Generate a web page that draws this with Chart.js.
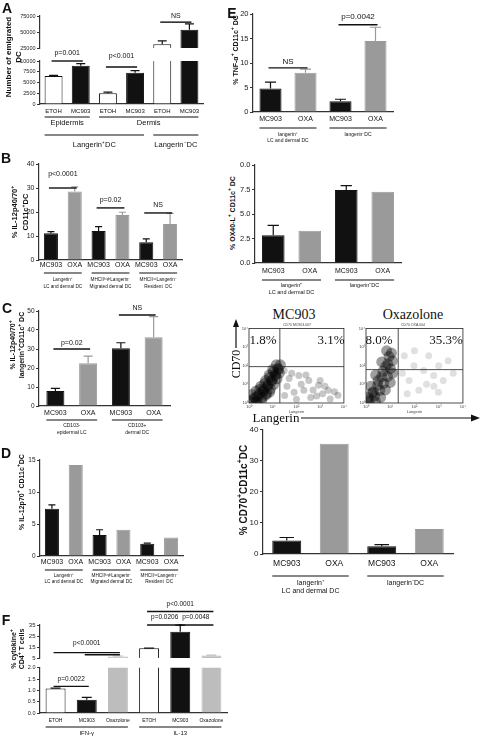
<!DOCTYPE html>
<html>
<head>
<meta charset="utf-8">
<title>DC cytokine panels</title>
<script src="https://cdn.jsdelivr.net/npm/chart.js@4.4.1/dist/chart.umd.min.js"></script>
<style>
body{margin:0;background:#fff;}
#page{position:relative;width:480px;height:737px;overflow:hidden;font-family:"Liberation Sans",Arial,sans-serif;color:#111;}
canvas{position:absolute;}
.t{position:absolute;white-space:nowrap;text-align:center;}
.t sup{font-size:70%;line-height:0;vertical-align:super;}
</style>
</head>
<body>
<div id="page"></div>
<script>
// ---- data ----

// A: emigrated DC
const aCats = ['ETOH', 'MC903', 'ETOH', 'MC903', 'ETOH', 'MC903'];
const aVals = [6500, 8900, 2500, 7250, 31000, 53500];
const aErrs = [150, 500, 250, 500, 5000, 9200];
const aTicksHi = [25000, 50000, 75000];
const aTicksLo = [0, 2500, 5000, 7500, 10000];

// B: IL-12p40/70
const bCats = ['MC903', 'OXA', 'MC903', 'OXA', 'MC903', 'OXA'];
const bVals = [11.1, 28.5, 12.1, 18.8, 7.4, 15.0];
const bErrs = [0.7, 2.0, 1.8, 1.1, 1.4, 4.4];
const bTicks = [0, 10, 20, 30, 40];

// C: IL-12p40/70 langerin+
const cCats = ['MC903', 'OXA', 'MC903', 'OXA'];
const cVals = [7.9, 22.5, 30.4, 36.2];
const cErrs = [1.4, 3.8, 2.9, 10.8];
const cTicks = [0, 10, 20, 30, 40, 50];

// D: IL-12p70
const dCats = ['MC903', 'OXA', 'MC903', 'OXA', 'MC903', 'OXA'];
const dVals = [7.4, 14.2, 3.3, 4.1, 1.9, 2.9];
const dErrs = [0.6, 0, 0.8, 0, 0.1, 0];
const dTicks = [0, 5, 10, 15];

// E: TNF-alpha
const eCats = ['MC903', 'OXA', 'MC903', 'OXA'];
const eVals = [4.8, 8.0, 2.2, 14.5];
const eErrs = [1.3, 0.75, 0.4, 2.8];
const eTicks = [0, 5, 10, 15, 20];

// OX40-L
const oCats = ['MC903', 'OXA', 'MC903', 'OXA'];
const oVals = [2.84, 3.28, 7.45, 7.27];
const oErrs = [1.0, 0, 0.45, 0];
const oTicks = [0, 2.5, 5, 7.5, 10];

// CD70
const gCats = ['MC903', 'OXA', 'MC903', 'OXA'];
const gVals = [4.3, 35.4, 2.5, 8.0];
const gErrs = [1.0, 0, 0.5, 0];
const gTicks = [0, 10, 20, 30, 40];

// F: cytokine+ CD4 T cells
const fCats = ['ETOH', 'MC903', 'Oxazolone', 'ETOH', 'MC903', 'Oxazolone'];
const fVals = [1.08, 0.59, 6.4, 13.8, 28.8, 7.2];
const fErrs = [0.02, 0.1, 0.4, 0.2, 6.0, 0.5];
const fTicksHi = [5, 15, 25, 35];
const fTicksLo = [0, 0.5, 1.0, 1.5, 2.0];

// flow dot plots, in decades (10^0 .. 10^4)
const flowTicks = [0, 1, 2, 3, 4];
const flowTickText = ['10⁰', '10¹', '10²', '10³', '10⁴'];
const mcGate = [1.3, 1.95];
const oxGate = [1.33, 1.79];
const mcDense = [[0.17,0.21],[0.37,0.37],[0.58,0.63],[0.78,0.89],[0.95,1.16],[1.11,1.47],[1.24,1.79],[1.32,2.05],
  [0.29,0.05],[0.54,0.16],[0.70,0.42],[0.87,0.58],[0.45,0.74],[0.66,1.05],[0.87,1.37],[1.03,1.68],
  [0.1,0.1],[0.25,0.3],[0.45,0.5],[0.62,0.72],[0.8,0.98],[0.98,1.25],[1.12,1.55],[1.22,1.85],
  [0.35,0.1],[0.55,0.3],[0.75,0.5],[0.9,0.75],[1.05,1.0],[1.18,1.3],[1.28,1.6],
  [0.1,0.45],[0.3,0.65],[0.5,0.9],[0.7,1.2],[0.85,1.5],[1.0,1.8],[1.15,2.05]];
const mcSparse = [[1.69,1.32],[2.10,1.47],[2.52,1.21],[2.93,0.95],[3.34,0.68],[3.75,0.42],[2.31,0.68],
  [2.85,0.37],[3.42,0.21],[1.90,0.58],[1.48,1.74],[1.6,0.9],[2.2,1.0],[2.7,0.7],[3.1,0.5],[3.6,0.6],
  [2.4,1.5],[3.0,1.2],[1.8,1.6],[2.6,0.3],[3.2,0.9],[1.5,0.4],[2.0,0.2]];
const oxDense = [[0.16,0.16],[0.36,0.37],[0.57,0.68],[0.73,1.05],[0.89,1.42],[1.01,1.84],[1.09,2.26],[1.05,2.68],
  [0.24,0.53],[0.48,0.95],[0.65,1.42],[0.81,1.95],[0.08,0.05],[0.40,0.05],
  [0.1,0.3],[0.3,0.6],[0.5,1.2],[0.7,1.7],[0.9,2.1],[0.95,2.5],[0.6,0.3],[0.8,0.7],[1.0,1.1],[1.1,1.6],
  [0.2,0.9],[0.4,1.5],[0.65,2.2],[0.85,2.8]];
const oxSparse = [[1.58,2.53],[1.98,2.0],[2.38,1.74],[2.79,1.47],[3.19,1.21],[1.78,1.21],[2.59,2.53],
  [2.18,0.68],[3.39,2.26],[2.99,0.58],[1.5,1.6],[2.0,2.8],[2.5,1.0],[3.0,2.0],[3.6,1.6],[1.7,0.5],[2.8,0.9]];

// ---- styling ----
const SANS = "'Liberation Sans', Arial, sans-serif";
const BLK = '#111', GRY = '#9a9a9a', LGRY = '#bdbdbd', WHT = '#fff';
const AX = '#333';
Chart.defaults.font.family = SANS;

const page = document.getElementById('page');

function addCanvas(area, pad) {
  const cv = document.createElement('canvas');
  const w = area[2] - area[0] + pad.l + pad.r;
  const h = area[3] - area[1] + pad.t + pad.b;
  cv.width = w; cv.height = h;
  cv.style.left = (area[0] - pad.l) + 'px';
  cv.style.top = (area[1] - pad.t) + 'px';
  cv.style.width = w + 'px';
  cv.style.height = h + 'px';
  page.appendChild(cv);
  return cv;
}

function label(html, x, y, css, rot) {
  const d = document.createElement('div');
  d.className = 't';
  d.innerHTML = html;
  d.style.cssText = 'left:' + x + 'px;top:' + y + 'px;transform:translate(-50%,-50%)' + (rot ? ' rotate(-90deg)' : '') + ';' + css;
  page.appendChild(d);
}

// error bars, significance lines, group labels under the axis
const extras = {
  id: 'extras',
  afterDatasetsDraw(chart, args, o) {
    const ctx = chart.ctx, y = chart.scales.y, a = chart.chartArea;
    const bars = chart.getDatasetMeta(0).data, vals = chart.data.datasets[0].data;
    ctx.save();
    if (o.errors) {
      ctx.save();
      ctx.beginPath();
      ctx.rect(a.left, a.top - 1, a.right - a.left, a.bottom - a.top + 1);
      ctx.clip();
      ctx.lineWidth = 1.2;
      o.errors.forEach((e, i) => {
        if (!e) return;
        const b = bars[i], top = y.getPixelForValue(vals[i]), end = y.getPixelForValue(vals[i] + e), h = b.width / 4;
        ctx.strokeStyle = o.errColors[i];
        ctx.beginPath();
        ctx.moveTo(b.x, top); ctx.lineTo(b.x, end);
        ctx.moveTo(b.x - h, end); ctx.lineTo(b.x + h, end);
        ctx.stroke();
      });
      ctx.restore();
    }
    ctx.strokeStyle = BLK; ctx.fillStyle = BLK;
    ctx.textAlign = 'center'; ctx.textBaseline = 'middle';
    (o.brackets || []).forEach(k => {
      const x1 = bars[k.a].x, x2 = bars[k.b].x, yy = y.getPixelForValue(k.v);
      ctx.lineWidth = 1.4;
      ctx.beginPath(); ctx.moveTo(x1 - 2, yy); ctx.lineTo(x2 + 2, yy); ctx.stroke();
      if (k.t) {
        ctx.font = o.bFont + 'px ' + SANS;
        ctx.fillText(k.t, (x1 + x2) / 2, yy - k.dy);
      }
    });
    (o.groups || []).forEach(r => {
      r.items.forEach(g => {
        const x1 = bars[g.a].x - bars[g.a].width / 2, x2 = bars[g.b].x + bars[g.b].width / 2;
        const ly = a.bottom + r.ly;
        ctx.lineWidth = 1.2;
        ctx.beginPath(); ctx.moveTo(x1, ly); ctx.lineTo(x2, ly); ctx.stroke();
        ctx.font = r.size + 'px ' + SANS;
        g.t.forEach((s, j) => ctx.fillText(s, (x1 + x2) / 2, a.bottom + r.ty + j * (r.lh || 0)));
      });
    });
    ctx.restore();
  }
};

function barPanel(o) {
  const cv = addCanvas(o.area, o.pad);
  new Chart(cv, {
    type: 'bar',
    data: {
      labels: o.labels,
      datasets: [{
        data: o.values,
        backgroundColor: o.fill,
        borderColor: o.edge,
        borderWidth: 1,
        barPercentage: o.barPct,
        categoryPercentage: 1,
        clip: 0
      }]
    },
    options: {
      responsive: false,
      animation: false,
      events: [],
      layout: { autoPadding: false, padding: { left: 0, top: o.pad.t, right: o.pad.r, bottom: o.showX ? 0 : o.pad.b } },
      plugins: {
        legend: { display: false },
        tooltip: { enabled: false },
        extras: { errors: o.errors, errColors: o.errColors, brackets: o.brackets, bFont: o.bFont, groups: o.groups }
      },
      scales: {
        x: {
          display: o.showX,
          grid: { display: false, drawTicks: false, tickLength: 0 },
          border: { color: AX, width: 1.2 },
          afterFit: s => { s.height = o.pad.b; },
          ticks: { autoSkip: false, maxRotation: 0, padding: o.xPad, color: BLK, font: { size: o.xSize } }
        },
        y: {
          min: o.min,
          max: o.max,
          afterFit: s => { s.width = o.pad.l; },
          afterBuildTicks: s => { s.ticks = o.ticks.map(v => ({ value: v })); },
          grid: { drawOnChartArea: false, tickLength: 3, color: AX },
          border: { color: AX, width: 1.2 },
          ticks: { padding: 1.5, color: '#222', font: { size: o.tickSize }, callback: o.fmt || (v => String(v)) }
        }
      }
    },
    plugins: [extras]
  });
}

function colorsFor(list) {
  return list.map(c => c === WHT ? BLK : c);
}

// ---- panel A (broken axis: two charts) ----
const aFill = [WHT, BLK, WHT, BLK, WHT, BLK];
barPanel({
  area: [40, 16, 203, 52], pad: { l: 40, t: 10, r: 10, b: 4 }, showX: false,
  labels: aCats, values: aVals, errors: aErrs, fill: aFill, edge: colorsFor(aFill), errColors: colorsFor(aFill),
  min: 25000, max: 75000, ticks: aTicksHi, tickSize: 5.5, barPct: 0.66, bFont: 7,
  brackets: [{ a: 4, b: 5, v: 65400, t: 'NS', dy: 6 }]
});
barPanel({
  area: [40, 61, 203, 104], pad: { l: 40, t: 14, r: 10, b: 48 }, showX: true, xPad: 3.6, xSize: 6,
  labels: aCats, values: aVals, errors: aErrs, fill: aFill, edge: colorsFor(aFill), errColors: colorsFor(aFill),
  min: 0, max: 10000, ticks: aTicksLo, tickSize: 5.5, barPct: 0.66, bFont: 7,
  brackets: [{ a: 0, b: 1, v: 10000, t: 'p=0.001', dy: 8 }, { a: 2, b: 3, v: 8600, t: 'p<0.001', dy: 11 }],
  groups: [
    { ly: 13, ty: 19, size: 7.5, items: [{ a: 0, b: 1, t: ['Epidermis'] }, { a: 2, b: 5, t: ['Dermis'] }] },
    { ly: 31, ty: 40.5, size: 7.5, items: [{ a: 0, b: 3, t: ['Langerin⁺DC'] }, { a: 4, b: 5, t: ['Langerin⁻DC'] }] }
  ]
});

// ---- panel B ----
const pairFill6 = [BLK, GRY, BLK, GRY, BLK, GRY];
const dcGroups3 = [
  { a: 0, b: 1, t: ['Langerin⁺', 'LC and dermal DC'] },
  { a: 2, b: 3, t: ['MHCIIʰⁱᵍʰLangerin⁻', 'Migrated dermal DC'] },
  { a: 4, b: 5, t: ['MHCIIⁱⁿᵗLangerin⁻', 'Resident  DC'] }
];
barPanel({
  area: [39, 164, 182, 260], pad: { l: 39, t: 14, r: 10, b: 33 }, showX: true, xPad: 1, xSize: 7,
  labels: bCats, values: bVals, errors: bErrs, fill: pairFill6, edge: pairFill6, errColors: pairFill6,
  min: 0, max: 40, ticks: bTicks, tickSize: 7, barPct: 0.59, bFont: 7,
  brackets: [{ a: 0, b: 1, v: 30, t: 'p<0.0001', dy: 14 }, { a: 2, b: 3, v: 21.7, t: 'p=0.02', dy: 8 }, { a: 4, b: 5, v: 19.6, t: 'NS', dy: 8 }],
  groups: [{ ly: 13, ty: 20, lh: 7, size: 4.7, items: dcGroups3 }]
});

// ---- panel C ----
const pairFill4 = [BLK, GRY, BLK, GRY];
barPanel({
  area: [39, 311, 170, 406], pad: { l: 39, t: 10, r: 10, b: 32 }, showX: true, xPad: 3, xSize: 7,
  labels: cCats, values: cVals, errors: cErrs, fill: pairFill4, edge: pairFill4, errColors: pairFill4,
  min: 0, max: 50, ticks: cTicks, tickSize: 6.5, barPct: 0.55, bFont: 7,
  brackets: [{ a: 0, b: 1, v: 30, t: 'p=0.02', dy: 6 }, { a: 2, b: 3, v: 47.9, t: 'NS', dy: 7 }],
  groups: [{ ly: 14, ty: 20, lh: 6.5, size: 5, items: [{ a: 0, b: 1, t: ['CD103-', 'epidermal LC'] }, { a: 2, b: 3, t: ['CD103+', 'dermal DC'] }] }]
});

// ---- panel D ----
barPanel({
  area: [40, 460, 183, 556], pad: { l: 40, t: 6, r: 10, b: 32 }, showX: true, xPad: 2, xSize: 7,
  labels: dCats, values: dVals, errors: dErrs, fill: pairFill6, edge: pairFill6, errColors: pairFill6,
  min: 0, max: 15, ticks: dTicks, tickSize: 6.5, barPct: 0.59,
  groups: [{ ly: 14, ty: 19.5, lh: 6, size: 4.7, items: dcGroups3 }]
});

// ---- panel F (broken axis) ----
const fFill = [WHT, BLK, LGRY, WHT, BLK, LGRY];
barPanel({
  area: [40, 625, 227, 662], pad: { l: 40, t: 27, r: 10, b: 4 }, showX: false,
  labels: fCats, values: fVals, errors: fErrs, fill: fFill, edge: colorsFor(fFill), errColors: colorsFor(fFill),
  min: 5, max: 35, ticks: fTicksHi, tickSize: 6, barPct: 0.64, bFont: 6.5,
  brackets: [
    { a: 3, b: 5, v: 47.3, t: 'p<0.0001', dy: 7 },
    { a: 3, b: 4, v: 35, t: 'p=0.0206', dy: 8 },
    { a: 4, b: 5, v: 35, t: 'p=0.0048', dy: 8 },
    { a: 0, b: 2, v: 9.9, t: 'p<0.0001', dy: 9 },
    { a: 1, b: 2, v: 8.0 }
  ]
});
barPanel({
  area: [40, 667, 227, 713], pad: { l: 40, t: 4, r: 10, b: 24 }, showX: true, xPad: 5, xSize: 5,
  labels: fCats, values: fVals, errors: fErrs, fill: fFill, edge: colorsFor(fFill), errColors: colorsFor(fFill),
  min: 0, max: 2, ticks: fTicksLo, tickSize: 5.5, barPct: 0.64, bFont: 6.5, fmt: v => v.toFixed(1),
  brackets: [{ a: 0, b: 1, v: 1.18, t: 'p=0.0022', dy: 7 }],
  groups: [{ ly: 14, ty: 20.5, size: 6, items: [{ a: 0, b: 2, t: ['IFN-γ'] }, { a: 3, b: 5, t: ['IL-13'] }] }]
});

// ---- right column ----
const lgGroups = [{ a: 0, b: 1, t: ['langerin⁺', 'LC and dermal DC'] }, { a: 2, b: 3, t: ['langerin⁻DC'] }];
barPanel({
  area: [253, 14, 393, 112], pad: { l: 13, t: 12, r: 10, b: 35 }, showX: true, xPad: 3, xSize: 7,
  labels: eCats, values: eVals, errors: eErrs, fill: pairFill4, edge: pairFill4, errColors: pairFill4,
  min: 0, max: 20, ticks: eTicks, tickSize: 7.5, barPct: 0.63, bFont: 8,
  brackets: [{ a: 0, b: 1, v: 9.0, t: 'NS', dy: 6 }, { a: 2, b: 3, v: 17.8, t: 'p=0.0042', dy: 8 }],
  groups: [{ ly: 16, ty: 23, lh: 5.5, size: 5, items: lgGroups }]
});
barPanel({
  area: [255, 165, 401, 263], pad: { l: 15, t: 6, r: 10, b: 35 }, showX: true, xPad: 4, xSize: 7,
  labels: oCats, values: oVals, errors: oErrs, fill: pairFill4, edge: pairFill4, errColors: pairFill4,
  min: 0, max: 10, ticks: oTicks, tickSize: 7.5, barPct: 0.62, fmt: v => v.toFixed(1),
  groups: [{ ly: 17, ty: 22.5, lh: 6.5, size: 5.5, items: lgGroups }]
});
barPanel({
  area: [263, 429, 453, 554], pad: { l: 20, t: 6, r: 10, b: 45 }, showX: true, xPad: 4.5, xSize: 8.5,
  labels: gCats, values: gVals, errors: gErrs, fill: pairFill4, edge: pairFill4, errColors: pairFill4,
  min: 0, max: 40, ticks: gTicks, tickSize: 8, barPct: 0.61,
  groups: [{ ly: 22, ty: 29, lh: 8, size: 7, items: lgGroups }]
});

// ---- flow dot plots ----
const gate = {
  id: 'gate',
  afterDatasetsDraw(chart, args, o) {
    const ctx = chart.ctx, a = chart.chartArea;
    const gx = chart.scales.x.getPixelForValue(o.x), gy = chart.scales.y.getPixelForValue(o.y);
    ctx.save();
    ctx.strokeStyle = '#222'; ctx.lineWidth = 0.8;
    ctx.strokeRect(a.left, a.top, a.right - a.left, a.bottom - a.top);
    ctx.beginPath();
    ctx.moveTo(gx, a.top); ctx.lineTo(gx, a.bottom);
    ctx.moveTo(a.left, gy); ctx.lineTo(a.right, gy);
    ctx.stroke();
    ctx.restore();
  }
};

function flowPanel(o) {
  const cv = addCanvas(o.area, { l: 9, t: 2, r: 2, b: 11 });
  const axis = () => ({
    type: 'linear', min: 0, max: 4,
    afterBuildTicks: s => { s.ticks = flowTicks.map(v => ({ value: v })); },
    grid: { display: false, drawTicks: false },
    border: { display: false },
    ticks: { padding: 1, font: { size: 4 }, color: '#444', callback: (v, i) => flowTickText[i] }
  });
  const xs = axis(), ys = axis();
  xs.afterFit = s => { s.height = 11; };
  xs.title = { display: true, text: 'Langerin', font: { size: 4 }, padding: 0, color: '#444' };
  ys.afterFit = s => { s.width = 9; };
  new Chart(cv, {
    type: 'bubble',
    data: {
      datasets: [
        { data: o.dense.map(p => ({ x: p[0], y: p[1], r: 5.5 })), backgroundColor: 'rgba(0,0,0,0.38)', borderWidth: 0, clip: 0 },
        { data: o.sparse.map(p => ({ x: p[0], y: p[1], r: 3.5 })), backgroundColor: o.sparseColor, borderWidth: 0, clip: 0 }
      ]
    },
    options: {
      responsive: false, animation: false, events: [],
      layout: { autoPadding: false, padding: { left: 0, top: 2, right: 2, bottom: 0 } },
      plugins: { legend: { display: false }, tooltip: { enabled: false }, gate: { x: o.gate[0], y: o.gate[1] } },
      scales: { x: xs, y: ys }
    },
    plugins: [gate]
  });
}
flowPanel({ area: [249, 327, 346, 403], dense: mcDense, sparse: mcSparse, gate: mcGate, sparseColor: 'rgba(0,0,0,0.22)' });
flowPanel({ area: [366, 327, 465, 403], dense: oxDense, sparse: oxSparse, gate: oxGate, sparseColor: 'rgba(0,0,0,0.12)' });

// ---- text ----
const LET = 'font-weight:bold;font-size:14px;';
label('A', 7, 8, LET); label('B', 6, 158, LET); label('C', 7, 308, LET);
label('D', 6, 453, LET); label('E', 232, 13, LET); label('F', 6, 620, LET);

label('Number of emigrated<br>DC', 13.5, 57, 'font-weight:bold;font-size:8px;line-height:10px;', true);
label('% IL-12p40/70<sup>+</sup><br>CD11c<sup>+</sup>DC', 19.5, 212, 'font-weight:bold;font-size:7.5px;line-height:11px;', true);
label('% IL-12p40/70<sup>+</sup><br>langerin<sup>+</sup>CD11c<sup>+</sup> DC', 16.5, 345, 'font-weight:bold;font-size:7px;line-height:9px;', true);
label('% IL-12p70<sup>+</sup> CD11c<sup>+</sup>DC', 21, 492, 'font-weight:bold;font-size:7px;', true);
label('% cytokine<sup>+</sup><br>CD4<sup>+</sup> T cells', 17.5, 649, 'font-weight:bold;font-size:7px;line-height:8px;', true);
label('% TNF-α<sup>+</sup> CD11c<sup>+</sup> DC', 235, 50, 'font-weight:bold;font-size:7px;', true);
label('% OX40-L<sup>+</sup> CD11c<sup>+</sup> DC', 232, 213, 'font-weight:bold;font-size:7px;', true);
label('% CD70<sup>+</sup>CD11c<sup>+</sup>DC', 243, 490, 'font-weight:bold;font-size:10px;', true);

const SER = 'font-family:"Liberation Serif","Times New Roman",serif;';
label('MC903', 294, 315, SER + 'font-size:14px;');
label('Oxazolone', 413, 315, SER + 'font-size:14px;');
label('CD70 MC903.007', 297, 324.5, 'font-size:3.5px;color:#444;');
label('CD70 OXA.004', 413, 324.5, 'font-size:3.5px;color:#444;');
label('1.8%', 263, 340, SER + 'font-size:13px;');
label('3.1%', 331, 340, SER + 'font-size:13px;');
label('8.0%', 379, 340, SER + 'font-size:13px;');
label('35.3%', 446, 340, SER + 'font-size:13px;');
label('CD70', 236, 364, SER + 'font-size:12px;', true);
label('Langerin', 276, 418, SER + 'font-size:13px;');

// arrows next to the dot plots
const svgNS = 'http://www.w3.org/2000/svg';
const svg = document.createElementNS(svgNS, 'svg');
svg.setAttribute('width', 480); svg.setAttribute('height', 737);
svg.style.cssText = 'position:absolute;left:0;top:0;pointer-events:none;';
svg.innerHTML =
  '<line x1="236" y1="348" x2="236" y2="325" stroke="#111" stroke-width="1.2"/>' +
  '<polygon points="236,319 233,327 239,327" fill="#111"/>' +
  '<line x1="301" y1="418" x2="472" y2="418" stroke="#111" stroke-width="1.2"/>' +
  '<polygon points="480,418 471,414.5 471,421.5" fill="#111"/>';
page.appendChild(svg);
</script>
</body>
</html>
